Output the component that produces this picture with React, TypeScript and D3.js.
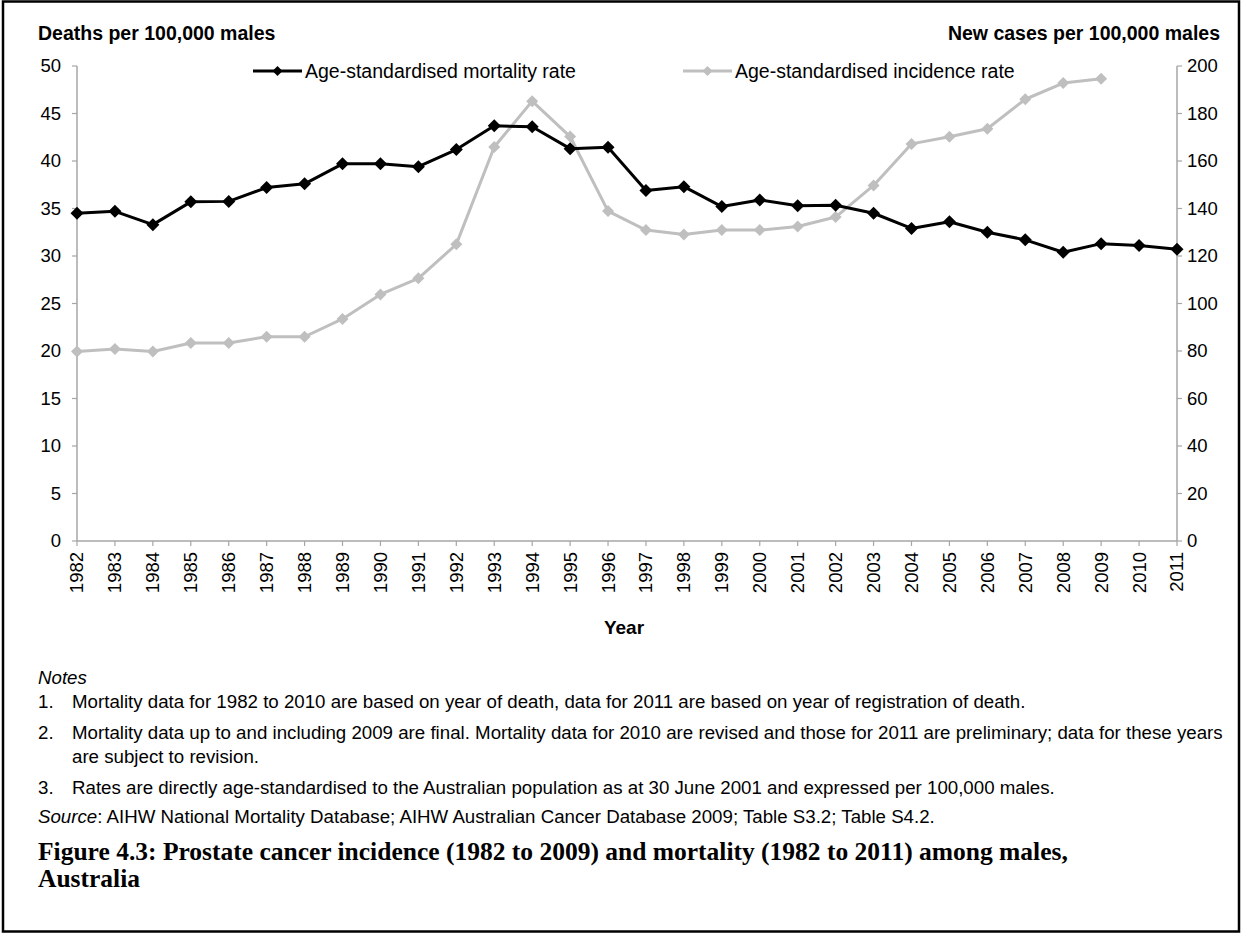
import React from "react";
import * as d3 from "d3";

const years: number[] = [1982,1983,1984,1985,1986,1987,1988,1989,1990,1991,1992,1993,1994,1995,1996,1997,1998,1999,2000,2001,2002,2003,2004,2005,2006,2007,2008,2009,2010,2011];
const mortality: number[] = [34.5,34.7,33.3,35.7,35.75,37.2,37.6,39.7,39.7,39.4,41.2,43.7,43.6,41.3,41.45,36.9,37.3,35.2,35.9,35.3,35.35,34.5,32.9,33.6,32.5,31.7,30.4,31.3,31.1,30.7];
const incidenceYears: number[] = [1982,1983,1984,1985,1986,1987,1988,1989,1990,1991,1992,1993,1994,1995,1996,1997,1998,1999,2000,2001,2002,2003,2004,2005,2006,2007,2008,2009];
const incidence: number[] = [79.8,80.8,79.8,83.4,83.4,86.0,86.0,93.5,103.8,110.6,124.9,165.9,185.2,170.3,138.9,130.9,129.1,130.9,130.9,132.4,136.4,149.7,167.2,170.2,173.6,186.0,192.8,194.6];
const leftTicks: number[] = [0,5,10,15,20,25,30,35,40,45,50];
const rightTicks: number[] = [0,20,40,60,80,100,120,140,160,180,200];

const notes: string[] = [
  "Mortality data for 1982 to 2010 are based on year of death, data for 2011 are based on year of registration of death.",
  "Mortality data up to and including 2009 are final. Mortality data for 2010 are revised and those for 2011 are preliminary; data for these years",
  "are subject to revision.",
  "Rates are directly age-standardised to the Australian population as at 30 June 2001 and expressed per 100,000 males.",
];

const SANS = "'Liberation Sans', Arial, sans-serif";
const SERIF = "'Liberation Serif', 'DejaVu Serif', serif";

function Diamond({ x, y, r, fill }: { x: number; y: number; r: number; fill: string }) {
  return <path d={`M${x},${y - r}L${x + r},${y}L${x},${y + r}L${x - r},${y}Z`} fill={fill} />;
}

export default function App() {
  const W = 1242, H = 934;
  const x = d3.scaleLinear().domain([1982, 2011]).range([77, 1177]);
  const yL = d3.scaleLinear().domain([0, 50]).range([541, 66]);
  const yR = d3.scaleLinear().domain([0, 200]).range([541, 66]);
  const axisColor = "#a6a6a6";
  const black = "#000000";
  const gray = "#bfbfbf";
  const tickFont = 18.5;
  const noteFont = 18.7;

  const mortLine = d3.line<number>().x((_, i) => x(years[i])).y((d) => yL(d))(mortality) || "";
  const incLine = d3.line<number>().x((_, i) => x(incidenceYears[i])).y((d) => yR(d))(incidence) || "";

  return (
    <svg width={W} height={H} style={{ position: "absolute", left: 0, top: 0, background: "#fff" }} fontFamily={SANS}>
      <rect x={0} y={0} width={W} height={H} fill="#fff" />
      <rect x={3} y={1.5} width={1236} height={930} fill="none" stroke="#000" strokeWidth={2.5} />

      {/* axis titles */}
      <text x={38} y={40} fontSize={19.5} fontWeight="bold">Deaths per 100,000 males</text>
      <text x={1220} y={40} fontSize={19.5} fontWeight="bold" textAnchor="end">New cases per 100,000 males</text>

      {/* axes */}
      <line x1={x(1982)} x2={x(1982)} y1={yL(50)} y2={yL(0)} stroke={axisColor} strokeWidth={1.5} />
      <line x1={x(2011)} x2={x(2011)} y1={yR(200)} y2={yR(0)} stroke={axisColor} strokeWidth={1.5} />
      <line x1={x(1982)} x2={x(2011)} y1={yL(0)} y2={yL(0)} stroke={axisColor} strokeWidth={1.5} />
      {leftTicks.map((t) => (
        <g key={"l" + t}>
          <line x1={x(1982) - 5} x2={x(1982)} y1={yL(t)} y2={yL(t)} stroke={axisColor} strokeWidth={1.2} />
          <text x={61} y={yL(t)} dy="0.35em" fontSize={tickFont} textAnchor="end">{t}</text>
        </g>
      ))}
      {rightTicks.map((t) => (
        <g key={"r" + t}>
          <line x1={x(2011)} x2={x(2011) + 5} y1={yR(t)} y2={yR(t)} stroke={axisColor} strokeWidth={1.2} />
          <text x={1187} y={yR(t)} dy="0.35em" fontSize={tickFont} textAnchor="start">{t}</text>
        </g>
      ))}
      {years.map((yr) => (
        <g key={"x" + yr}>
          <line x1={x(yr)} x2={x(yr)} y1={yL(0)} y2={yL(0) + 5} stroke={axisColor} strokeWidth={1.2} />
          <text transform={`translate(${x(yr)},${yL(0) + 11}) rotate(-90)`} dy="0.35em" fontSize={tickFont} textAnchor="end">{yr}</text>
        </g>
      ))}
      <text x={624} y={634} fontSize={19} fontWeight="bold" textAnchor="middle">Year</text>

      {/* series */}
      <path d={incLine} fill="none" stroke={gray} strokeWidth={3} strokeLinejoin="round" />
      {incidence.map((v, i) => (
        <Diamond key={"i" + i} x={x(incidenceYears[i])} y={yR(v)} r={6} fill={gray} />
      ))}
      <path d={mortLine} fill="none" stroke={black} strokeWidth={3} strokeLinejoin="round" />
      {mortality.map((v, i) => (
        <Diamond key={"m" + i} x={x(years[i])} y={yL(v)} r={6.5} fill={black} />
      ))}

      {/* legend */}
      <line x1={253} x2={302} y1={71} y2={71} stroke={black} strokeWidth={3} />
      <Diamond x={277.5} y={71} r={5} fill={black} />
      <text x={305} y={71} dy="0.35em" fontSize={19.5}>Age-standardised mortality rate</text>
      <line x1={683} x2={732} y1={71} y2={71} stroke={gray} strokeWidth={3} />
      <Diamond x={707.5} y={71} r={5} fill={gray} />
      <text x={735} y={71} dy="0.35em" fontSize={19.5}>Age-standardised incidence rate</text>

      {/* notes */}
      <text x={38} y={684} fontSize={noteFont} fontStyle="italic">Notes</text>
      <text x={38} y={708} fontSize={noteFont}>1.</text>
      <text x={72} y={708} fontSize={noteFont}>{notes[0]}</text>
      <text x={38} y={739} fontSize={noteFont}>2.</text>
      <text x={72} y={739} fontSize={noteFont}>{notes[1]}</text>
      <text x={72} y={763} fontSize={noteFont}>{notes[2]}</text>
      <text x={38} y={794} fontSize={noteFont}>3.</text>
      <text x={72} y={794} fontSize={noteFont}>{notes[3]}</text>
      <text x={38} y={823} fontSize={noteFont}>
        <tspan fontStyle="italic">Source</tspan>: AIHW National Mortality Database; AIHW Australian Cancer Database 2009; Table S3.2; Table S4.2.
      </text>
      <text x={38} y={860} fontSize={25.5} fontWeight="bold" fontFamily={SERIF}>Figure 4.3: Prostate cancer incidence (1982 to 2009) and mortality (1982 to 2011) among males,</text>
      <text x={38} y={887} fontSize={25.5} fontWeight="bold" fontFamily={SERIF}>Australia</text>
    </svg>
  );
}
